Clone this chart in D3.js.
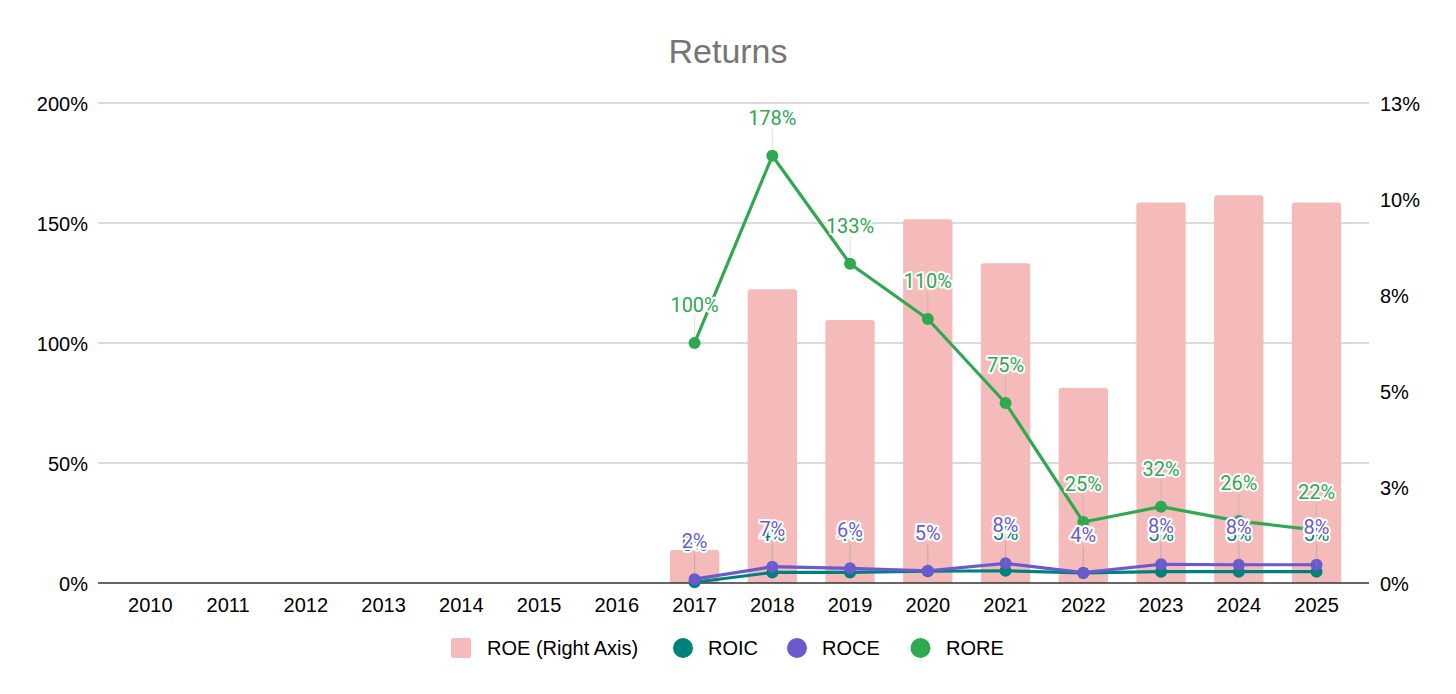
<!DOCTYPE html>
<html>
<head>
<meta charset="utf-8">
<script src="https://cdn.jsdelivr.net/npm/d3@7/dist/d3.min.js"></script>
<style>
  html, body { margin: 0; padding: 0; background: #fff; }
  svg { display: block; }
</style>
</head>
<body>
<svg id="chart" width="1456" height="694"></svg>
<script>
// ---- data ----
const years = ["2010","2011","2012","2013","2014","2015","2016","2017","2018","2019","2020","2021","2022","2023","2024","2025"];
const roe  = [null,null,null,null,null,null,null,0.86,7.65,6.85,9.47,8.33,5.08,9.91,10.1,9.91];   // right axis, %
const roic = [null,null,null,null,null,null,null,0.3,4.4,4.4,4.9,5.1,4.2,4.7,4.7,4.7];
const roce = [null,null,null,null,null,null,null,1.6,6.8,6.1,5.1,8.2,4.3,7.8,7.6,7.6];
const rore = [null,null,null,null,null,null,null,100,178,133,110,75,25.4,31.8,25.8,22];
const leftTicks = [0,50,100,150,200];
const rightTicks = [0,2.5,5,7.5,10,12.5];
const seriesNames = ["ROE (Right Axis)","ROIC","ROCE","RORE"];
const title = "Returns";

// ---- styles ----
const colors = { roe: "#f5bbbb", roic: "#00827c", roce: "#6a5acd", rore: "#2fa84f" };
const axisFont = "'Liberation Sans', Arial, sans-serif";
const labelFont = "Roboto, 'Liberation Sans', sans-serif";

const svg = d3.select("#chart");
const plotL = 98, plotR = 1369, plotT = 103, plotB = 583;

const x = d3.scaleBand().domain(years).range([111.5, 1355.4]).paddingInner(0.365).paddingOuter(0.1825);
const yL = d3.scaleLinear().domain([0,200]).range([plotB, plotT]);
const yR = d3.scaleLinear().domain([0,12.5]).range([plotB, plotT]);
const cx = d => x(d) + x.bandwidth()/2;

// title
svg.append("text").attr("x", 728).attr("y", 63).attr("text-anchor","middle")
  .attr("font-family", axisFont).attr("font-size", 34).attr("fill", "#757575").text(title);

// gridlines
svg.append("g").selectAll("line").data(leftTicks.filter(t => t > 0)).join("line")
  .attr("x1", plotL).attr("x2", plotR)
  .attr("y1", d => yL(d)).attr("y2", d => yL(d))
  .attr("stroke", "#b7b7b7").attr("stroke-width", 1.2);

// left axis
const gL = svg.append("g").attr("transform", `translate(${plotL - 10},0)`)
  .call(d3.axisLeft(yL).tickValues(leftTicks).tickSize(0).tickPadding(0).tickFormat(d => d + "%"));
gL.select(".domain").remove();
gL.selectAll("text").attr("font-family", axisFont).attr("font-size", 20).attr("fill", "#000").attr("dy", "0.35em");

// right axis
const gR = svg.append("g").attr("transform", `translate(${plotR + 11},0)`)
  .call(d3.axisRight(yR).tickValues(rightTicks).tickSize(0).tickPadding(0).tickFormat(d => Math.round(d) + "%"));
gR.select(".domain").remove();
gR.selectAll("text").attr("font-family", axisFont).attr("font-size", 20).attr("fill", "#000").attr("dy", "0.35em");

// bars
const bars = years.map((yv, i) => ({ year: yv, v: roe[i] })).filter(d => d.v != null);
svg.append("g").selectAll("path").data(bars).join("path")
  .attr("d", d => {
    const x0 = x(d.year), w = x.bandwidth(), y0 = yR(d.v), r = 3;
    return `M${x0},${plotB} V${y0 + r} Q${x0},${y0} ${x0 + r},${y0} H${x0 + w - r} Q${x0 + w},${y0} ${x0 + w},${y0 + r} V${plotB} Z`;
  })
  .attr("fill", colors.roe);

// baseline
svg.append("line").attr("x1", plotL).attr("x2", plotR).attr("y1", plotB).attr("y2", plotB)
  .attr("stroke", "#333").attr("stroke-width", 1.6);

// x axis labels
const gX = svg.append("g").attr("transform", `translate(0,${plotB})`)
  .call(d3.axisBottom(x).tickSize(0).tickPadding(0));
gX.select(".domain").remove();
gX.selectAll("text").attr("font-family", axisFont).attr("font-size", 20).attr("fill", "#000")
  .attr("dy", null).attr("y", 29);

// lines
const lineSeries = [
  { key: "roic", vals: roic },
  { key: "roce", vals: roce },
  { key: "rore", vals: rore }
];
const lineGen = d3.line().defined(d => d.v != null).x(d => cx(d.year)).y(d => yL(d.v));
lineSeries.forEach(s => {
  const pts = years.map((yv, i) => ({ year: yv, v: s.vals[i] }));
  s.pts = pts.filter(d => d.v != null);
  svg.append("path").datum(pts).attr("d", lineGen)
    .attr("fill", "none").attr("stroke", colors[s.key]).attr("stroke-width", 3.2)
    .attr("stroke-linejoin", "round");
});
lineSeries.forEach(s => {
  svg.append("g").selectAll("circle").data(s.pts).join("circle")
    .attr("cx", d => cx(d.year)).attr("cy", d => yL(d.v)).attr("r", 6)
    .attr("fill", colors[s.key]);
});

// data labels with leader lines
lineSeries.forEach(s => {
  const g = svg.append("g");
  g.selectAll("line").data(s.pts).join("line")
    .attr("x1", d => cx(d.year)).attr("x2", d => cx(d.year))
    .attr("y1", d => yL(d.v) - 27).attr("y2", d => yL(d.v) - 6)
    .attr("stroke", "#999").attr("stroke-opacity", 0.3).attr("stroke-width", 1);
  g.selectAll("text").data(s.pts).join("text")
    .attr("x", d => cx(d.year)).attr("y", d => yL(d.v) - 31)
    .attr("text-anchor", "middle")
    .attr("font-family", labelFont).attr("font-size", 20)
    .attr("fill", colors[s.key])
    .attr("stroke", "#fff").attr("stroke-width", 4).attr("stroke-linejoin", "round")
    .attr("paint-order", "stroke")
    .text(d => Math.round(d.v) + "%");
});

// legend
const legend = [
  { name: seriesNames[0], color: colors.roe, shape: "rect", sx: 451, tx: 487 },
  { name: seriesNames[1], color: colors.roic, shape: "circle", sx: 683, tx: 708 },
  { name: seriesNames[2], color: colors.roce, shape: "circle", sx: 797, tx: 822 },
  { name: seriesNames[3], color: colors.rore, shape: "circle", sx: 920.5, tx: 946 }
];
const gLeg = svg.append("g");
legend.forEach(l => {
  if (l.shape === "rect") {
    gLeg.append("rect").attr("x", l.sx).attr("y", 638).attr("width", 20).attr("height", 20).attr("rx", 2).attr("fill", l.color);
  } else {
    gLeg.append("circle").attr("cx", l.sx).attr("cy", 648).attr("r", 10).attr("fill", l.color);
  }
  gLeg.append("text").attr("x", l.tx).attr("y", 655).attr("font-family", axisFont).attr("font-size", 20)
    .attr("fill", "#000").text(l.name);
});
</script>
</body>
</html>
